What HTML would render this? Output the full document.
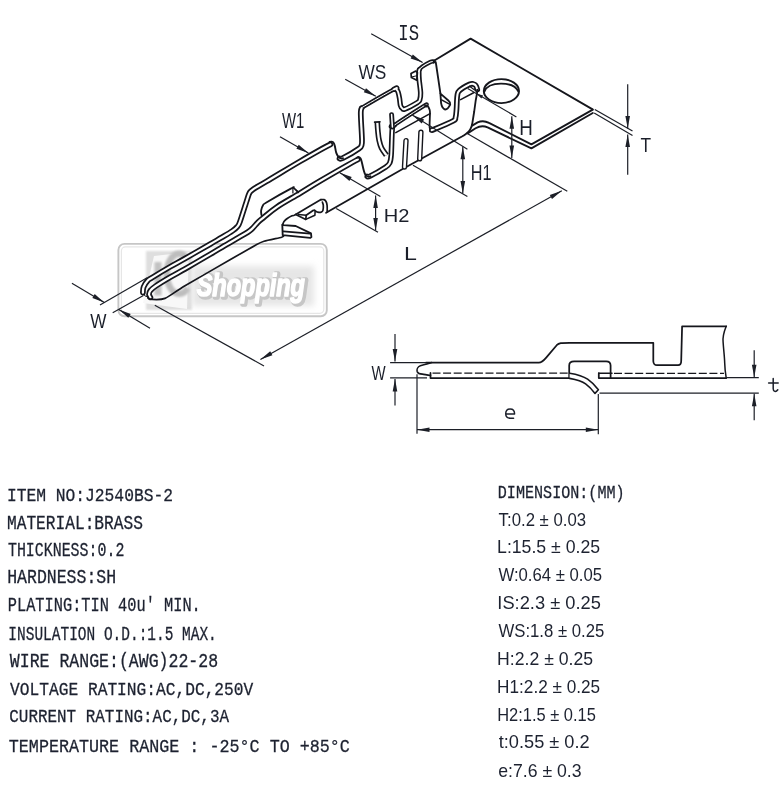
<!DOCTYPE html>
<html><head><meta charset="utf-8"><style>
html,body{margin:0;padding:0;background:#fff;}
svg{display:block;will-change:transform;}
</style></head><body>
<svg width="783" height="797" viewBox="0 0 783 797">
<defs><filter id="bl1" x="-20%" y="-20%" width="140%" height="140%"><feGaussianBlur stdDeviation="1.2"/></filter><filter id="bl2" x="-20%" y="-20%" width="140%" height="140%"><feGaussianBlur stdDeviation="3"/></filter></defs>
<rect width="783" height="797" fill="#fff"/>
<g>
<rect x="118.4" y="243.9" width="208.4" height="72.4" rx="6" fill="none" stroke="#c6c6c6" stroke-width="1.9"/>
<rect x="121.4" y="246.9" width="202.4" height="66.4" rx="4" fill="none" stroke="#e6e6e6" stroke-width="1.2"/>
<rect x="146" y="251" width="46" height="59" fill="#dedede" filter="url(#bl1)"/>
<path d="M154,256 L189,252 L187,309 L143,303 Z" fill="#f8f8f8"/>
<rect x="154.5" y="262" width="7" height="33.5" fill="#c2c2c2" filter="url(#bl1)"/>
<path d="M188,259.5 A12.5,20 0 1 0 188,288" fill="none" stroke="#bdbdbd" stroke-width="6.5" filter="url(#bl1)"/>
<rect x="192" y="266" width="122" height="40" fill="#e6e6e6" filter="url(#bl2)"/>
<text font-size="200" font-family="Liberation Sans" fill="#c6c6c6" transform="translate(198.51,297.00) scale(0.11745,0.15625)" font-weight="bold" font-style="italic" stroke="#c6c6c6" stroke-width="34" stroke-linejoin="round" filter="url(#bl1)">Shopping</text>
<text font-size="200" font-family="Liberation Sans" fill="#ffffff" transform="translate(196.71,296.00) scale(0.11745,0.15625)" font-weight="bold" font-style="italic" stroke="#ffffff" stroke-width="10" stroke-linejoin="round">Shopping</text>
</g>
<path d="M142.9,292.6 C143.0,291.7 142.8,289.0 143.6,287.0 C144.4,285.0 146.3,282.1 147.8,280.5 C149.3,278.9 148.8,279.7 152.5,277.4 C156.2,275.1 164.6,270.0 170.0,266.9 C175.4,263.8 178.3,262.4 185.0,258.6 C191.7,254.8 203.8,247.8 210.0,244.2 C216.2,240.6 218.3,239.5 222.0,237.3 C225.7,235.1 229.7,232.8 232.3,231.0 C234.9,229.2 236.1,228.2 237.4,226.6 C238.7,225.0 238.4,226.1 240.0,221.6 C241.6,217.1 245.6,204.1 247.2,199.3 C248.8,194.5 248.6,194.4 249.6,192.7 C250.6,191.0 250.3,191.2 253.1,189.3 C255.9,187.4 258.7,186.1 266.5,181.4 C274.3,176.8 289.4,167.6 300.0,161.4 C310.6,155.2 325.0,147.1 330.4,144.4" fill="none" stroke="#15161c" stroke-width="5.70" stroke-linejoin="round" stroke-linecap="round" />
<path d="M339.5,158.4 C340.6,158.8 339.8,159.6 343.0,158.0 C346.2,156.4 355.8,150.8 358.9,148.6 C362.0,146.4 361.1,146.5 361.6,145.0 C362.1,143.5 362.1,143.7 362.0,139.5 C361.9,135.3 361.2,124.6 361.0,120.0 C360.8,115.4 360.7,114.0 360.8,112.0 C360.9,110.0 361.0,109.3 361.6,108.3" fill="none" stroke="#15161c" stroke-width="5.70" stroke-linejoin="round" stroke-linecap="round" />
<path d="M361.6,108.3 C362.2,107.3 358.9,109.4 364.3,106.2 C369.7,103.0 388.5,92.1 393.9,89.3" fill="none" stroke="#15161c" stroke-width="4.20" stroke-linejoin="round" stroke-linecap="round" />
<path d="M393.9,89.3 C399.2,86.5 395.7,89.0 396.4,89.5 C397.1,90.0 397.6,90.5 398.1,92.0 C398.6,93.5 399.1,96.0 399.5,98.2 C399.9,100.4 400.0,103.7 400.5,105.4 C401.0,107.1 401.6,107.7 402.3,108.3 C403.1,108.9 402.4,110.0 405.0,109.0 C407.6,108.0 415.1,103.9 417.6,102.4 C420.1,100.9 419.3,101.4 419.8,99.8 C420.3,98.2 420.7,96.2 420.6,92.9 C420.5,89.6 419.5,83.3 419.2,80.0 C418.9,76.7 418.9,74.7 418.9,73.0 C418.9,71.3 418.8,70.7 419.4,69.6" fill="none" stroke="#15161c" stroke-width="5.30" stroke-linejoin="round" stroke-linecap="round" />
<path d="M419.4,69.6 C420.0,68.5 420.6,67.9 422.4,66.6 C424.2,65.3 428.5,62.9 430.4,62.0 C432.3,61.1 433.1,61.6 433.6,61.5" fill="none" stroke="#15161c" stroke-width="4.30" stroke-linejoin="round" stroke-linecap="round" />
<path d="M142.9,292.6 C143.0,291.7 142.8,289.0 143.6,287.0 C144.4,285.0 146.3,282.1 147.8,280.5 C149.3,278.9 148.8,279.7 152.5,277.4 C156.2,275.1 164.6,270.0 170.0,266.9 C175.4,263.8 178.3,262.4 185.0,258.6 C191.7,254.8 203.8,247.8 210.0,244.2 C216.2,240.6 218.3,239.5 222.0,237.3 C225.7,235.1 229.7,232.8 232.3,231.0 C234.9,229.2 236.1,228.2 237.4,226.6 C238.7,225.0 238.4,226.1 240.0,221.6 C241.6,217.1 245.6,204.1 247.2,199.3 C248.8,194.5 248.6,194.4 249.6,192.7 C250.6,191.0 250.3,191.2 253.1,189.3 C255.9,187.4 258.7,186.1 266.5,181.4 C274.3,176.8 289.4,167.6 300.0,161.4 C310.6,155.2 325.0,147.1 330.4,144.4" fill="none" stroke="#fff" stroke-width="2.20" stroke-linejoin="round" stroke-linecap="round" />
<path d="M339.5,158.4 C340.6,158.8 339.8,159.6 343.0,158.0 C346.2,156.4 355.8,150.8 358.9,148.6 C362.0,146.4 361.1,146.5 361.6,145.0 C362.1,143.5 362.1,143.7 362.0,139.5 C361.9,135.3 361.2,124.6 361.0,120.0 C360.8,115.4 360.7,114.0 360.8,112.0 C360.9,110.0 361.0,109.3 361.6,108.3" fill="none" stroke="#fff" stroke-width="2.20" stroke-linejoin="round" stroke-linecap="round" />
<path d="M361.6,108.3 C362.2,107.3 358.9,109.4 364.3,106.2 C369.7,103.0 388.5,92.1 393.9,89.3" fill="none" stroke="#fff" stroke-width="1.00" stroke-linejoin="round" stroke-linecap="round" />
<path d="M393.9,89.3 C399.2,86.5 395.7,89.0 396.4,89.5 C397.1,90.0 397.6,90.5 398.1,92.0 C398.6,93.5 399.1,96.0 399.5,98.2 C399.9,100.4 400.0,103.7 400.5,105.4 C401.0,107.1 401.6,107.7 402.3,108.3 C403.1,108.9 402.4,110.0 405.0,109.0 C407.6,108.0 415.1,103.9 417.6,102.4 C420.1,100.9 419.3,101.4 419.8,99.8 C420.3,98.2 420.7,96.2 420.6,92.9 C420.5,89.6 419.5,83.3 419.2,80.0 C418.9,76.7 418.9,74.7 418.9,73.0 C418.9,71.3 418.8,70.7 419.4,69.6" fill="none" stroke="#fff" stroke-width="1.90" stroke-linejoin="round" stroke-linecap="round" />
<path d="M419.4,69.6 C420.0,68.5 420.6,67.9 422.4,66.6 C424.2,65.3 428.5,62.9 430.4,62.0 C432.3,61.1 433.1,61.6 433.6,61.5" fill="none" stroke="#fff" stroke-width="1.10" stroke-linejoin="round" stroke-linecap="round" />
<path d="M329.6,142.0 C329.9,141.9 330.9,141.5 331.6,141.6 C332.3,141.7 333.1,142.0 333.6,142.8 C334.2,143.6 334.5,144.6 334.9,146.2 C335.3,147.8 335.6,150.9 336.2,152.6 C336.8,154.3 337.4,155.6 338.2,156.6 C339.0,157.6 340.2,158.1 341.0,158.4 C341.8,158.7 342.7,158.2 343.0,158.2" fill="none" stroke="#15161c" stroke-width="1.90" stroke-linejoin="round" stroke-linecap="round" />
<path d="M433.6,61.5 C433.9,61.7 435.0,62.0 435.4,62.6 C435.8,63.2 435.4,59.9 436.2,65.0 C437.0,70.1 439.7,88.7 440.4,93.4" fill="none" stroke="#15161c" stroke-width="1.85" stroke-linejoin="round" stroke-linecap="round" />
<path d="M440.4,93.4 L441.1,103.2 C441.6,106 443,108.6 444.6,109.4 C446.4,109.9 448.8,107.6 450.2,104.7 C450.5,102.9 449.6,101.6 448.6,100.8 L441.6,94.6" fill="none" stroke="#15161c" stroke-width="1.85" stroke-linejoin="round" stroke-linecap="round" />
<polyline points="441.6,99.8 449.4,104.2" fill="none" stroke="#15161c" stroke-width="1.50" stroke-linejoin="round" stroke-linecap="round" />
<polyline points="411.0,73.6 415.8,71.0 417.4,72.6 416.8,80.2 411.4,77.6 411.0,73.6" fill="none" stroke="#15161c" stroke-width="1.70" stroke-linejoin="round" stroke-linecap="round" />
<polyline points="411.4,77.0 416.6,75.8" fill="none" stroke="#15161c" stroke-width="1.00" stroke-linejoin="round" stroke-linecap="round" />
<path d="M150.4,297.4 C150.2,296.9 149.0,295.5 149.0,294.4 C149.0,293.3 149.3,292.0 150.4,290.6 C151.5,289.2 152.5,288.2 155.8,286.0 C159.1,283.8 165.1,280.2 170.0,277.3 C174.9,274.4 178.3,272.7 185.0,268.9 C191.7,265.1 203.8,258.0 210.0,254.4 C216.2,250.8 217.7,249.8 222.0,247.2 C226.3,244.6 231.7,241.5 236.0,239.0 C240.3,236.5 245.2,233.8 248.0,232.0 C250.8,230.2 250.8,230.0 252.5,228.4 C254.2,226.8 256.1,224.1 258.0,222.2 C259.9,220.3 260.8,219.8 264.0,217.2 C267.2,214.6 271.2,210.8 277.2,206.8 C283.2,202.8 292.9,197.5 300.0,193.2 C307.1,188.9 310.4,186.6 320.0,181.0 C329.6,175.4 351.1,163.0 357.8,159.5" fill="none" stroke="#15161c" stroke-width="5.70" stroke-linejoin="round" stroke-linecap="round" />
<path d="M367.2,176.4 C368.1,176.8 367.0,177.7 370.0,176.2 C373.0,174.7 381.7,169.7 385.0,167.5 C388.3,165.3 388.6,165.3 389.6,163.2 C390.6,161.1 390.8,160.8 391.2,155.0 C391.6,149.2 391.8,133.1 392.3,128.2 C392.8,123.3 388.8,129.1 394.0,125.4" fill="none" stroke="#15161c" stroke-width="5.40" stroke-linejoin="round" stroke-linecap="round" />
<path d="M394.0,125.4 C399.2,121.7 418.5,109.3 423.8,106.0 C429.1,102.7 425.6,105.5 426.0,105.4" fill="none" stroke="#15161c" stroke-width="4.20" stroke-linejoin="round" stroke-linecap="round" />
<path d="M150.4,297.4 C150.2,296.9 149.0,295.5 149.0,294.4 C149.0,293.3 149.3,292.0 150.4,290.6 C151.5,289.2 152.5,288.2 155.8,286.0 C159.1,283.8 165.1,280.2 170.0,277.3 C174.9,274.4 178.3,272.7 185.0,268.9 C191.7,265.1 203.8,258.0 210.0,254.4 C216.2,250.8 217.7,249.8 222.0,247.2 C226.3,244.6 231.7,241.5 236.0,239.0 C240.3,236.5 245.2,233.8 248.0,232.0 C250.8,230.2 250.8,230.0 252.5,228.4 C254.2,226.8 256.1,224.1 258.0,222.2 C259.9,220.3 260.8,219.8 264.0,217.2 C267.2,214.6 271.2,210.8 277.2,206.8 C283.2,202.8 292.9,197.5 300.0,193.2 C307.1,188.9 310.4,186.6 320.0,181.0 C329.6,175.4 351.1,163.0 357.8,159.5" fill="none" stroke="#fff" stroke-width="2.20" stroke-linejoin="round" stroke-linecap="round" />
<path d="M367.2,176.4 C368.1,176.8 367.0,177.7 370.0,176.2 C373.0,174.7 381.7,169.7 385.0,167.5 C388.3,165.3 388.6,165.3 389.6,163.2 C390.6,161.1 390.8,160.8 391.2,155.0 C391.6,149.2 391.8,133.1 392.3,128.2 C392.8,123.3 388.8,129.1 394.0,125.4" fill="none" stroke="#fff" stroke-width="2.00" stroke-linejoin="round" stroke-linecap="round" />
<path d="M394.0,125.4 C399.2,121.7 418.5,109.3 423.8,106.0 C429.1,102.7 425.6,105.5 426.0,105.4" fill="none" stroke="#fff" stroke-width="1.00" stroke-linejoin="round" stroke-linecap="round" />
<path d="M356.8,157.8 C357.1,157.7 358.0,156.9 358.6,157.0 C359.2,157.1 360.0,157.6 360.6,158.6 C361.2,159.6 361.5,161.0 362.0,163.0 C362.5,165.0 363.2,168.6 363.8,170.6 C364.4,172.6 364.7,173.8 365.4,174.8 C366.1,175.8 367.2,176.4 368.0,176.7 C368.8,176.9 370.0,176.4 370.4,176.3" fill="none" stroke="#15161c" stroke-width="1.90" stroke-linejoin="round" stroke-linecap="round" />
<path d="M425.0,105.4 C425.5,105.5 427.1,105.5 427.8,106.2 C428.6,106.9 429.1,108.3 429.5,109.4 C429.9,110.5 430.0,110.5 430.0,113.0 C430.0,115.5 429.6,122.0 429.6,124.5 C429.6,127.0 429.5,127.2 429.8,128.2 C430.1,129.2 430.9,130.2 431.6,130.6 C432.3,131.0 433.8,130.8 434.2,130.8" fill="none" stroke="#15161c" stroke-width="1.80" stroke-linejoin="round" stroke-linecap="round" />
<path d="M431.8,129.9 C432.2,129.8 430.4,130.9 434.0,129.4 C437.6,127.9 449.6,122.9 453.2,120.9 C456.8,118.9 454.9,119.5 455.5,117.6 C456.1,115.7 456.2,113.0 456.5,109.4 C456.8,105.8 456.8,98.9 457.3,95.8 C457.8,92.7 457.3,92.5 459.4,90.6 C461.4,88.7 467.3,85.5 469.6,84.4 C471.9,83.3 471.9,83.7 473.0,83.9 C474.1,84.1 475.2,84.6 475.9,85.6 C476.6,86.5 477.1,88.9 477.3,89.6" fill="none" stroke="#15161c" stroke-width="5.60" stroke-linejoin="round" stroke-linecap="round" />
<path d="M431.8,129.9 C432.2,129.8 430.4,130.9 434.0,129.4 C437.6,127.9 449.6,122.9 453.2,120.9 C456.8,118.9 454.9,119.5 455.5,117.6 C456.1,115.7 456.2,113.0 456.5,109.4 C456.8,105.8 456.8,98.9 457.3,95.8 C457.8,92.7 457.3,92.5 459.4,90.6 C461.4,88.7 467.3,85.5 469.6,84.4 C471.9,83.3 471.9,83.7 473.0,83.9 C474.1,84.1 475.2,84.6 475.9,85.6 C476.6,86.5 477.1,88.9 477.3,89.6" fill="none" stroke="#fff" stroke-width="2.10" stroke-linejoin="round" stroke-linecap="round" />
<path d="M477.3,89.6 C477.3,93 476.4,97 475.7,100.5 L474.2,111.5 L472.4,122.8 C471.6,128 469.6,131.4 466.2,133.8 C464.8,134.8 463.6,135.6 462.4,136.3 L404.4,168.0 L326.1,212.8" fill="none" stroke="#15161c" stroke-width="1.85" stroke-linejoin="round" stroke-linecap="round" />
<polyline points="460.6,99.6 473.6,92.8" fill="none" stroke="#15161c" stroke-width="1.55" stroke-linejoin="round" stroke-linecap="round" />
<polyline points="469.6,86.2 474.6,90.0" fill="none" stroke="#15161c" stroke-width="1.10" stroke-linejoin="round" stroke-linecap="round" />
<polyline points="434.0,60.8 470.6,38.6 592.6,109.4" fill="none" stroke="#15161c" stroke-width="1.85" stroke-linejoin="round" stroke-linecap="round" />
<path d="M592.8,109.6 L531.4,144.4 L489.0,122.9 C485.5,121.0 481.5,120.6 477.6,122.4 L472.2,125.6" fill="none" stroke="#15161c" stroke-width="1.85" stroke-linejoin="round" stroke-linecap="round" />
<path d="M592.8,113.0 L531.4,148.4 L487.6,127.4 C484.0,125.8 480.0,125.8 475.6,128.2 L467.6,133.4" fill="none" stroke="#15161c" stroke-width="1.85" stroke-linejoin="round" stroke-linecap="round" />
<ellipse cx="501.4" cy="91.1" rx="17.6" ry="12.0" fill="none" stroke="#15161c" stroke-width="1.9"/>
<path d="M484.4,91.6 C486.5,86 493,83.6 501.0,83.6 C509,83.6 516,86 518.4,91.6" fill="none" stroke="#15161c" stroke-width="1.80" stroke-linejoin="round" stroke-linecap="round" />
<path d="M377.3,122.0 C377.4,123.5 377.6,128.0 377.9,131.0 C378.2,134.0 378.5,137.4 379.1,140.2 C379.7,143.0 380.3,145.5 381.5,148.0 C382.7,150.5 385.6,154.0 386.4,155.2" fill="none" stroke="#15161c" stroke-width="5.60" stroke-linejoin="round" stroke-linecap="butt" />
<path d="M377.3,122.0 C377.4,123.5 377.6,128.0 377.9,131.0 C378.2,134.0 378.5,137.4 379.1,140.2 C379.7,143.0 380.3,145.5 381.5,148.0 C382.7,150.5 385.6,154.0 386.4,155.2" fill="none" stroke="#fff" stroke-width="2.30" stroke-linejoin="round" stroke-linecap="butt" />
<polyline points="374.6,122.1 380.0,121.9" fill="none" stroke="#15161c" stroke-width="1.60" stroke-linejoin="round" stroke-linecap="round" />
<path d="M391.6,114.6 L392.4,127.0" fill="none" stroke="#15161c" stroke-width="4.90" stroke-linejoin="round" stroke-linecap="round" />
<path d="M391.6,114.6 L392.4,127.0" fill="none" stroke="#fff" stroke-width="1.50" stroke-linejoin="round" stroke-linecap="round" />
<path d="M406.0,140.6 L404.5,167.0" fill="none" stroke="#15161c" stroke-width="5.40" stroke-linejoin="round" stroke-linecap="round" />
<path d="M406.0,140.6 L404.5,167.0" fill="none" stroke="#fff" stroke-width="2.60" stroke-linejoin="round" stroke-linecap="round" />
<path d="M420.9,132.2 L419.7,158.8" fill="none" stroke="#15161c" stroke-width="5.40" stroke-linejoin="round" stroke-linecap="round" />
<path d="M420.9,132.2 L419.7,158.8" fill="none" stroke="#fff" stroke-width="2.60" stroke-linejoin="round" stroke-linecap="round" />
<polyline points="395.8,132.6 430.0,113.6" fill="none" stroke="#15161c" stroke-width="1.55" stroke-linejoin="round" stroke-linecap="round" />
<path d="M261.5,215.2 C261.4,214.4 260.9,212.3 261.1,210.7 C261.4,209.0 262.1,206.7 263.0,205.3 C263.9,203.9 262.1,205.0 266.8,202.2 C271.5,199.4 286.8,190.8 291.3,188.4 C295.8,186.0 292.7,187.6 293.6,188.0 C294.5,188.4 295.9,190.0 296.7,190.7 C297.5,191.4 297.9,192.0 298.2,192.3" fill="none" stroke="#15161c" stroke-width="1.85" stroke-linejoin="round" stroke-linecap="round" />
<polyline points="292.9,188.4 292.9,193.0" fill="none" stroke="#15161c" stroke-width="1.20" stroke-linejoin="round" stroke-linecap="round" />
<path d="M282.6,225.0 C282.8,224.5 283.3,222.3 284.0,221.4 C284.7,220.5 286.5,218.9 287.6,218.2 C288.7,217.5 290.9,216.3 292.0,215.8 C293.1,215.3 291.8,216.6 295.7,214.4 C299.6,212.2 317.6,201.6 321.0,199.6" fill="none" stroke="#15161c" stroke-width="1.70" stroke-linejoin="round" stroke-linecap="round" />
<path d="M321.0,199.6 C321.5,199.6 323.2,199.3 324.0,199.6 C324.8,199.9 325.5,200.6 326.0,201.5 C326.5,202.4 326.9,203.6 327.1,205.3 C327.3,207.0 327.2,210.7 327.2,211.8" fill="none" stroke="#15161c" stroke-width="1.70" stroke-linejoin="round" stroke-linecap="round" />
<path d="M322.4,202.2 C322.5,202.7 323.2,203.9 323.3,205.3 C323.4,206.7 323.3,209.3 322.9,210.5 C322.5,211.7 321.8,211.9 321.0,212.2 C320.2,212.5 318.8,212.4 317.9,212.2 C317.0,212.0 316.2,211.4 315.6,211.1 C315.1,210.8 314.8,210.4 314.6,210.3" fill="none" stroke="#15161c" stroke-width="1.70" stroke-linejoin="round" stroke-linecap="round" />
<polyline points="314.6,210.3 313.4,210.3 306.2,215.3 305.8,219.4 295.7,214.4" fill="none" stroke="#15161c" stroke-width="1.70" stroke-linejoin="round" stroke-linecap="round" />
<polyline points="306.2,215.3 298.4,214.4" fill="none" stroke="#15161c" stroke-width="1.55" stroke-linejoin="round" stroke-linecap="round" />
<polyline points="305.8,219.4 314.9,215.2 315.1,211.8" fill="none" stroke="#15161c" stroke-width="1.55" stroke-linejoin="round" stroke-linecap="round" />
<path d="M282.7,224.6 L283.4,225.2 L295.7,226.0 L311.0,233.3 L311.4,237.1 L310.2,237.9 L282.7,235.2 L282.3,224.6 Z" fill="none" stroke="#15161c" stroke-width="1.85" stroke-linejoin="round" stroke-linecap="round" />
<polyline points="283.4,231.4 310.2,233.7" fill="none" stroke="#15161c" stroke-width="1.70" stroke-linejoin="round" stroke-linecap="round" />
<path d="M147.8,297.8 C148.3,298.0 149.3,299.3 151.6,299.4 C153.9,299.5 160.5,300.2 165.0,298.4 C169.5,296.6 176.3,290.8 185.0,285.7 C193.7,280.6 220.7,265.2 230.0,259.8 C239.3,254.4 250.5,247.9 255.0,245.4 C259.5,242.9 260.4,242.3 264.0,241.2 C267.6,240.1 279.1,237.9 281.7,237.2 C284.3,236.5 283.5,236.0 283.8,235.8" fill="none" stroke="#15161c" stroke-width="1.70" stroke-linejoin="round" stroke-linecap="round" />
<path d="M144.2,295.0 C144.5,295.2 145.3,296.2 146.0,296.4 C146.7,296.6 148.0,296.2 148.4,296.2" fill="none" stroke="#15161c" stroke-width="1.00" stroke-linejoin="round" stroke-linecap="round" />
<line x1="371.2" y1="33.8" x2="422.6" y2="62.6" stroke="#1c1f27" stroke-width="1.20"/>
<polygon points="422.6,62.6 410.6,58.5 412.8,54.5" fill="#1c1f27"/>
<line x1="345.2" y1="79.2" x2="375.8" y2="96.3" stroke="#1c1f27" stroke-width="1.20"/>
<polygon points="375.8,96.3 363.8,92.2 366.0,88.2" fill="#1c1f27"/>
<line x1="412.3" y1="115.0" x2="467.4" y2="149.2" stroke="#1c1f27" stroke-width="1.20"/>
<polygon points="412.3,115.0 424.1,119.6 421.7,123.5" fill="#1c1f27"/>
<line x1="467.7" y1="88.4" x2="516.4" y2="116.9" stroke="#1c1f27" stroke-width="1.20"/>
<polygon points="476.2,93.4 483.1,95.5 481.4,98.4" fill="#1c1f27"/>
<line x1="280.0" y1="136.8" x2="308.4" y2="153.0" stroke="#1c1f27" stroke-width="1.20"/>
<polygon points="308.4,153.0 296.4,148.8 298.7,144.8" fill="#1c1f27"/>
<line x1="339.8" y1="172.8" x2="380.4" y2="196.6" stroke="#1c1f27" stroke-width="1.20"/>
<polygon points="339.8,172.8 351.7,177.1 349.4,181.1" fill="#1c1f27"/>
<line x1="336.2" y1="208.4" x2="378.0" y2="232.2" stroke="#1c1f27" stroke-width="1.20"/>
<line x1="375.6" y1="195.5" x2="375.6" y2="230.6" stroke="#1c1f27" stroke-width="1.20"/>
<polygon points="375.6,195.5 377.9,208.0 373.3,208.0" fill="#1c1f27"/>
<polygon points="375.6,230.6 373.3,218.1 377.9,218.1" fill="#1c1f27"/>
<line x1="413.0" y1="165.2" x2="467.4" y2="196.4" stroke="#1c1f27" stroke-width="1.20"/>
<line x1="462.8" y1="146.8" x2="462.8" y2="193.6" stroke="#1c1f27" stroke-width="1.20"/>
<polygon points="462.8,146.8 465.1,159.3 460.5,159.3" fill="#1c1f27"/>
<polygon points="462.8,193.6 460.5,181.1 465.1,181.1" fill="#1c1f27"/>
<line x1="511.8" y1="116.2" x2="511.8" y2="158.0" stroke="#1c1f27" stroke-width="1.20"/>
<polygon points="511.8,116.2 514.1,128.7 509.5,128.7" fill="#1c1f27"/>
<polygon points="511.8,158.0 509.5,145.5 514.1,145.5" fill="#1c1f27"/>
<line x1="594.8" y1="109.5" x2="632.5" y2="131.0" stroke="#1c1f27" stroke-width="1.20"/>
<line x1="594.2" y1="112.9" x2="632.5" y2="135.4" stroke="#1c1f27" stroke-width="1.20"/>
<line x1="627.7" y1="84.3" x2="627.7" y2="128.4" stroke="#1c1f27" stroke-width="1.20"/>
<polygon points="627.7,128.4 625.4,115.9 630.0,115.9" fill="#1c1f27"/>
<line x1="627.7" y1="134.6" x2="627.7" y2="174.7" stroke="#1c1f27" stroke-width="1.20"/>
<polygon points="627.7,134.6 630.0,147.1 625.4,147.1" fill="#1c1f27"/>
<line x1="467.7" y1="133.8" x2="567.3" y2="191.3" stroke="#1c1f27" stroke-width="1.20"/>
<line x1="154.8" y1="305.2" x2="264.0" y2="366.0" stroke="#1c1f27" stroke-width="1.20"/>
<line x1="260.4" y1="359.4" x2="561.8" y2="190.8" stroke="#1c1f27" stroke-width="1.20"/>
<polygon points="260.4,359.4 270.2,351.3 272.4,355.3" fill="#1c1f27"/>
<polygon points="561.8,190.8 552.0,198.9 549.8,194.9" fill="#1c1f27"/>
<line x1="147.1" y1="277.7" x2="100.0" y2="305.1" stroke="#1c1f27" stroke-width="1.20"/>
<line x1="143.4" y1="295.6" x2="112.7" y2="312.8" stroke="#1c1f27" stroke-width="1.20"/>
<line x1="71.9" y1="283.3" x2="104.3" y2="302.4" stroke="#1c1f27" stroke-width="1.20"/>
<polygon points="104.3,302.4 92.4,298.0 94.7,294.1" fill="#1c1f27"/>
<line x1="118.8" y1="309.4" x2="150.0" y2="328.3" stroke="#1c1f27" stroke-width="1.20"/>
<polygon points="118.8,309.4 130.7,313.9 128.3,317.8" fill="#1c1f27"/>
<path d="M426.0,362.6 L538.8,362.6 C541.5,362.6 543.5,360.8 546.2,357.6 L556.7,345.2 C559,343 561,342.8 569.5,342.8 L653.3,342.8 L653.3,361.2 C653.5,364 655,365.2 657,365.2 L678.1,365.2 C680,365.2 681.2,364 681.2,361 L682.1,326.3 L726.2,326.3" fill="none" stroke="#15161c" stroke-width="1.75" stroke-linejoin="round" stroke-linecap="round" />
<path d="M726.2,326.3 C723.5,333 722.6,337 723.1,342 C723.6,350 724.5,356 724.7,363 C724.9,370 725.6,374 726.2,377.9" fill="none" stroke="#15161c" stroke-width="1.50" stroke-linejoin="round" stroke-linecap="round" />
<path d="M431.6,362.6 C429,363.4 424,364.8 420.3,365.8 C417.6,366.8 416.6,369.6 417.2,371.6 C418,373.6 420.4,374.0 422.4,374.1 C424.5,374.3 426.5,375.0 430.5,375.5" fill="none" stroke="#15161c" stroke-width="1.60" stroke-linejoin="round" stroke-linecap="round" />
<polyline points="430.5,372.9 430.5,378.0 569.4,378.0" fill="none" stroke="#15161c" stroke-width="1.75" stroke-linejoin="round" stroke-linecap="round" />
<polyline points="598.8,373.2 598.8,378.1 726.2,378.1" fill="none" stroke="#15161c" stroke-width="1.75" stroke-linejoin="round" stroke-linecap="round" />
<polyline points="598.8,373.2 612.0,373.2" fill="none" stroke="#15161c" stroke-width="1.50" stroke-linejoin="round" stroke-linecap="round" />
<line x1="432.5" y1="373.1" x2="569" y2="373.1" stroke="#15161c" stroke-width="1.3" stroke-dasharray="8,2.6"/>
<line x1="614" y1="373.3" x2="724" y2="373.3" stroke="#15161c" stroke-width="1.3" stroke-dasharray="8,2.6"/>
<path d="M569.2,378.0 L569.2,365.4 C569.2,362.6 571.0,361.3 574.1,361.3 L606.2,361.3 C609.0,361.3 610.6,362.8 610.6,365.6 L610.6,378.1" fill="none" stroke="#15161c" stroke-width="1.75" stroke-linejoin="round" stroke-linecap="round" />
<path d="M569.6,373.2 C576,374.2 583,376.0 587.6,379.2 C592,382.2 595.5,386 598.4,389.8 L595.0,393.4 C592,389.4 589.5,386.6 585.6,383.8 C581.5,380.9 576,379.6 569.6,378.4" fill="#fff" stroke="#15161c" stroke-width="1.60" stroke-linejoin="round" stroke-linecap="round" />
<line x1="390.1" y1="362.6" x2="426.0" y2="362.6" stroke="#1c1f27" stroke-width="1.20"/>
<line x1="390.1" y1="377.9" x2="427.0" y2="377.9" stroke="#1c1f27" stroke-width="1.20"/>
<line x1="395.0" y1="334.0" x2="395.0" y2="361.6" stroke="#1c1f27" stroke-width="1.20"/>
<polygon points="395.0,361.6 392.7,349.1 397.3,349.1" fill="#1c1f27"/>
<line x1="395.0" y1="379.0" x2="395.0" y2="405.6" stroke="#1c1f27" stroke-width="1.20"/>
<polygon points="395.0,379.0 397.3,391.5 392.7,391.5" fill="#1c1f27"/>
<line x1="417.0" y1="374.2" x2="417.0" y2="433.8" stroke="#1c1f27" stroke-width="1.20"/>
<line x1="598.3" y1="394.0" x2="598.3" y2="434.2" stroke="#1c1f27" stroke-width="1.20"/>
<line x1="417.0" y1="429.7" x2="598.3" y2="429.7" stroke="#1c1f27" stroke-width="1.20"/>
<polygon points="417.0,429.7 429.5,427.4 429.5,432.0" fill="#1c1f27"/>
<polygon points="598.3,429.7 585.8,432.0 585.8,427.4" fill="#1c1f27"/>
<line x1="726.5" y1="377.7" x2="758.8" y2="377.7" stroke="#1c1f27" stroke-width="1.20"/>
<line x1="599.5" y1="393.2" x2="758.8" y2="393.2" stroke="#1c1f27" stroke-width="1.20"/>
<line x1="754.2" y1="350.3" x2="754.2" y2="377.2" stroke="#1c1f27" stroke-width="1.20"/>
<polygon points="754.2,377.2 751.9,364.7 756.5,364.7" fill="#1c1f27"/>
<line x1="754.2" y1="393.7" x2="754.2" y2="420.2" stroke="#1c1f27" stroke-width="1.20"/>
<polygon points="754.2,393.7 756.5,406.2 751.9,406.2" fill="#1c1f27"/>
<text font-size="200" font-family="Liberation Mono" fill="#1b1f2a" transform="translate(398.29,40.00) scale(0.08648,0.11007)" >IS</text>
<text font-size="200" font-family="Liberation Sans" fill="#1b1f2a" transform="translate(358.52,79.00) scale(0.08651,0.10175)" >WS</text>
<text font-size="200" font-family="Liberation Sans" fill="#1b1f2a" transform="translate(281.93,128.30) scale(0.07465,0.10683)" >W1</text>
<text font-size="200" font-family="Liberation Sans" fill="#1b1f2a" transform="translate(519.26,135.40) scale(0.09399,0.10974)" >H</text>
<text font-size="200" font-family="Liberation Sans" fill="#1b1f2a" transform="translate(640.41,152.10) scale(0.08666,0.10393)" >T</text>
<text font-size="200" font-family="Liberation Sans" fill="#1b1f2a" transform="translate(470.77,180.00) scale(0.08105,0.10683)" >H1</text>
<text font-size="200" font-family="Liberation Sans" fill="#1b1f2a" transform="translate(383.75,221.50) scale(0.10035,0.09302)" >H2</text>
<text font-size="200" font-family="Liberation Sans" fill="#1b1f2a" transform="translate(403.90,259.80) scale(0.11567,0.09302)" >L</text>
<text font-size="200" font-family="Liberation Sans" fill="#1b1f2a" transform="translate(90.32,328.40) scale(0.08600,0.10465)" >W</text>
<text font-size="200" font-family="Liberation Sans" fill="#1b1f2a" transform="translate(371.43,380.00) scale(0.07478,0.10538)" >W</text>
<path d="M505.9,413.9 L514.6,413.9 C514.6,410.6 512.6,408.9 510.1,408.9 C507.3,408.9 505.7,411.1 505.7,413.7 C505.7,416.6 507.6,418.2 510.2,418.2 L513.6,418.2" fill="none" stroke="#1b1f2a" stroke-width="1.45" stroke-linejoin="round" stroke-linecap="round" />
<path d="M773.2,378.6 L773.2,388.8 C773.2,391.6 775.8,392.6 777.8,389.8" fill="none" stroke="#1b1f2a" stroke-width="1.50" stroke-linejoin="round" stroke-linecap="round" />
<polyline points="768.6,383.1 778.2,383.1" fill="none" stroke="#1b1f2a" stroke-width="1.50" stroke-linejoin="round" stroke-linecap="round" />
<text font-size="200" font-family="Liberation Mono" fill="#1d2230" transform="translate(6.89,501.10) scale(0.08149,0.09564)" stroke="#1d2230" stroke-width="3">ITEM NO:J2540BS-2</text>
<text font-size="200" font-family="Liberation Mono" fill="#1d2230" transform="translate(6.98,528.60) scale(0.08095,0.09716)" stroke="#1d2230" stroke-width="3">MATERIAL:BRASS</text>
<text font-size="200" font-family="Liberation Mono" fill="#1d2230" transform="translate(7.95,555.90) scale(0.07467,0.09716)" stroke="#1d2230" stroke-width="3">THICKNESS:0.2</text>
<text font-size="200" font-family="Liberation Mono" fill="#1d2230" transform="translate(7.19,583.10) scale(0.08258,0.09944)" stroke="#1d2230" stroke-width="3">HARDNESS:SH</text>
<text font-size="200" font-family="Liberation Mono" fill="#1d2230" transform="translate(7.79,610.80) scale(0.07663,0.10020)" stroke="#1d2230" stroke-width="3">PLATING:TIN 40u&#8242; MIN.</text>
<text font-size="200" font-family="Liberation Mono" fill="#1d2230" transform="translate(8.37,639.50) scale(0.07240,0.09716)" stroke="#1d2230" stroke-width="3">INSULATION O.D.:1.5 MAX.</text>
<text font-size="200" font-family="Liberation Mono" fill="#1d2230" transform="translate(9.80,667.30) scale(0.08268,0.09716)" stroke="#1d2230" stroke-width="3">WIRE RANGE:(AWG)22-28</text>
<text font-size="200" font-family="Liberation Mono" fill="#1d2230" transform="translate(10.12,695.00) scale(0.08111,0.09564)" stroke="#1d2230" stroke-width="3">VOLTAGE RATING:AC,DC,250V</text>
<text font-size="200" font-family="Liberation Mono" fill="#1d2230" transform="translate(9.32,722.30) scale(0.07962,0.09337)" stroke="#1d2230" stroke-width="3">CURRENT RATING:AC,DC,3A</text>
<text font-size="200" font-family="Liberation Mono" fill="#1d2230" transform="translate(8.78,751.50) scale(0.08370,0.09640)" stroke="#1d2230" stroke-width="3">TEMPERATURE RANGE : -25&#176;C TO +85&#176;C</text>
<text font-size="200" font-family="Liberation Mono" fill="#1d2230" transform="translate(497.81,497.80) scale(0.07548,0.09337)" stroke="#1d2230" stroke-width="3">DIMENSION:(MM)</text>
<text font-size="200" font-family="Liberation Sans" fill="#1d2230" transform="translate(498.62,526.00) scale(0.08388,0.08866)" >T:0.2 &#177; 0.03</text>
<text font-size="200" font-family="Liberation Sans" fill="#1d2230" transform="translate(497.05,553.30) scale(0.08849,0.08939)" >L:15.5 &#177; 0.25</text>
<text font-size="200" font-family="Liberation Sans" fill="#1d2230" transform="translate(498.43,581.10) scale(0.08368,0.09012)" >W:0.64 &#177; 0.05</text>
<text font-size="200" font-family="Liberation Sans" fill="#1d2230" transform="translate(497.31,608.80) scale(0.09142,0.08866)" >IS:2.3 &#177; 0.25</text>
<text font-size="200" font-family="Liberation Sans" fill="#1d2230" transform="translate(498.43,637.40) scale(0.08372,0.09302)" >WS:1.8 &#177; 0.25</text>
<text font-size="200" font-family="Liberation Sans" fill="#1d2230" transform="translate(497.05,665.10) scale(0.08830,0.09302)" >H:2.2 &#177; 0.25</text>
<text font-size="200" font-family="Liberation Sans" fill="#1d2230" transform="translate(497.09,692.90) scale(0.08599,0.09302)" >H1:2.2 &#177; 0.25</text>
<text font-size="200" font-family="Liberation Sans" fill="#1d2230" transform="translate(497.15,721.00) scale(0.08233,0.09593)" >H2:1.5 &#177; 0.15</text>
<text font-size="200" font-family="Liberation Sans" fill="#1d2230" transform="translate(498.72,748.30) scale(0.09105,0.08939)" >t:0.55 &#177; 0.2</text>
<text font-size="200" font-family="Liberation Sans" fill="#1d2230" transform="translate(498.25,777.10) scale(0.08840,0.09302)" >e:7.6 &#177; 0.3</text>
</svg>
</body></html>
